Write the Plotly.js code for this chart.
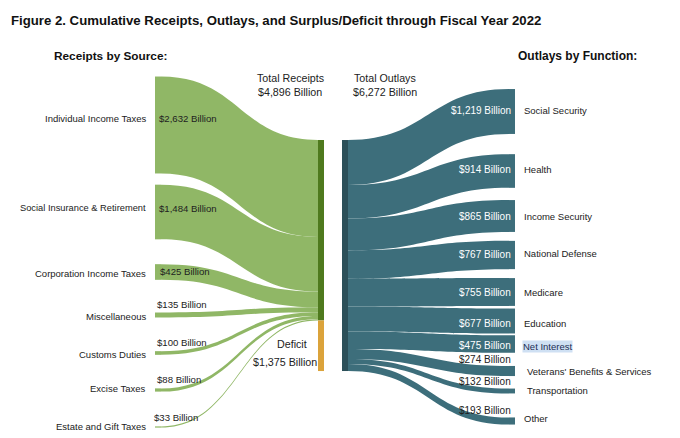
<!DOCTYPE html>
<html><head><meta charset="utf-8">
<script src="https://cdn.plot.ly/plotly-3.0.1.min.js"></script>
<style>html,body{margin:0;padding:0;background:#fff}</style>
</head><body><div id="chart" style="width:680px;height:438px"></div>
<script>
// ---------- DATA ----------
const receiptSources = ["Individual Income Taxes","Social Insurance & Retirement","Corporation Income Taxes","Miscellaneous","Customs Duties","Excise Taxes","Estate and Gift Taxes"];
const receiptValues = [2632,1484,425,135,100,88,33];
const outlayFunctions = ["Social Security","Health","Income Security","National Defense","Medicare","Education","Net Interest","Veterans' Benefits & Services","Transportation","Other"];
const outlayValues = [1219,914,865,767,755,677,475,274,132,193];
const totalReceipts = 4896;
const totalOutlays = 6272;
const deficit = 1375;
const titleText = "Figure 2. Cumulative Receipts, Outlays, and Surplus/Deficit through Fiscal Year 2022";

// ---------- LAYOUT (pixels in a 680x438 canvas) ----------
const W = 680, H = 438, PAD = 23, THICK = 6;
const leftX = 158, midRX = 321, midOX = 345, rightX = 512;
const leftCenters = [125, 212, 272, 315, 353, 390, 427];
const rightCenters = [111.5, 171, 216, 255, 292, 321, 344, 371, 391, 421];
const midTop = 140;
const leftNameY = [118, 208, 273, 316, 354, 388, 426];
const leftValY = [118, 208, 271, 304, 342, 379, 417];
const leftValX = [157, 157, 158, 155, 155, 155, 152];
const rightValY = [110, 170, 216, 254, 292, 323, 345, 359, 381, 410];
const rightNameY = [110, 170, 216, 253, 292, 323, 346, 371, 390, 418];
const rightNameX = [522, 522, 522, 522, 522, 522, 522, 525, 525, 522];
const darkValueLabels = [7, 8, 9];

// ---------- STYLE ----------
const lightGreen = "#90b766", darkGreen = "#4f7a1e", orange = "#dba33b";
const teal = "#3d6e7b", darkTeal = "#2c5059";
const FONT = "Liberation Sans, Arial, sans-serif";

// scale used by the sankey (same rule as plotly/d3-sankey)
const ky = (H - (outlayValues.length - 1) * PAD) / outlayValues.reduce((a,b)=>a+b,0);
const receiptsSum = receiptValues.reduce((a,b)=>a+b,0);

// node indices
const nR = receiptSources.length;
const iRec = nR, iDef = nR + 1, iOut = nR + 2, iF0 = nR + 3;

const nodeNames = [...receiptSources, "Total Receipts", "Deficit", "Total Outlays", ...outlayFunctions];
const nodeX = [], nodeY = [], nodeColor = [];
receiptSources.forEach((_, i) => { nodeX.push(leftX / W); nodeY.push(leftCenters[i] / H); nodeColor.push(lightGreen); });
nodeX.push(midRX / W); nodeY.push((midTop + receiptsSum * ky / 2) / H); nodeColor.push(darkGreen);
nodeX.push(midRX / W); nodeY.push((midTop + receiptsSum * ky + deficit * ky / 2) / H); nodeColor.push(orange);
nodeX.push(midOX / W); nodeY.push((midTop + (receiptsSum + deficit) * ky / 2) / H); nodeColor.push(darkTeal);
outlayFunctions.forEach((_, i) => { nodeX.push(rightX / W); nodeY.push(rightCenters[i] / H); nodeColor.push(teal); });

const src = [], tgt = [], val = [], lcol = [];
receiptValues.forEach((v, i) => { src.push(i); tgt.push(iRec); val.push(v); lcol.push(lightGreen); });
src.push(iRec); tgt.push(iOut); val.push(totalReceipts); lcol.push("rgba(0,0,0,0)");
src.push(iDef); tgt.push(iOut); val.push(deficit); lcol.push("rgba(0,0,0,0)");
outlayValues.forEach((v, i) => { src.push(iOut); tgt.push(iF0 + i); val.push(v); lcol.push(teal); });

const fmt = v => "$" + v.toLocaleString("en-US") + " Billion";

const trace = {
  type: "sankey",
  arrangement: "fixed",
  domain: { x: [0, 1], y: [0, 1] },
  node: {
    label: nodeNames.map(() => ""),
    customdata: nodeNames,
    hovertemplate: "%{customdata}: $%{value:,} Billion<extra></extra>",
    x: nodeX, y: nodeY, pad: PAD, thickness: THICK,
    color: nodeColor, line: { width: 0 }
  },
  link: { source: src, target: tgt, value: val, color: lcol, line: { width: 0 } }
};

const anns = [];
function ann(text, px, py, xanchor, size, color, o = {}) {
  anns.push(Object.assign({
    text, x: px / W, y: 1 - py / H, xref: "paper", yref: "paper",
    xanchor, yanchor: "middle", showarrow: false,
    font: { family: FONT, size: size, color: color }
  }, o));
}
ann("<b>" + titleText + "</b>", 9, 20, "left", 13.2, "#111");
ann("<b>Receipts by Source:</b>", 52, 56, "left", 11.8, "#111");
ann("<b>Outlays by Function:</b>", 516, 56, "left", 12, "#111");
ann("Total Receipts", 290, 78, "center", 10.7, "#222");
ann(fmt(totalReceipts), 290, 92, "center", 10.7, "#222");
ann("Total Outlays", 385, 78, "center", 10.7, "#222");
ann(fmt(totalOutlays), 385, 92, "center", 10.7, "#222");
ann("Deficit", 292, 344, "center", 10.7, "#222");
ann(fmt(deficit), 285, 362, "center", 10.7, "#222");

receiptSources.forEach((s, i) => {
  ann(s, 148, leftNameY[i], "right", i === 1 ? 9.3 : 9.5, "#222");
  ann(fmt(receiptValues[i]), leftValX[i], leftValY[i], "left", 9.6, "#222");
});
outlayFunctions.forEach((s, i) => {
  const dark = darkValueLabels.includes(i);
  ann(fmt(outlayValues[i]), 513, rightValY[i], "right", 10, dark ? "#222" : "#ffffff");
  const extra = (i === 6) ? { bgcolor: "#cfe0f3", borderpad: 0 } : {};
  ann(s, rightNameX[i], rightNameY[i], "left", 9.5, i === 6 ? "#1c2f55" : "#222", extra);
});

Plotly.newPlot("chart", [trace], {
  width: W, height: H,
  margin: { l: 0, r: 0, t: 0, b: 0, pad: 0 },
  paper_bgcolor: "#ffffff",
  font: { family: FONT },
  annotations: anns,
  showlegend: false
}, { displayModeBar: false });
</script></body></html>
